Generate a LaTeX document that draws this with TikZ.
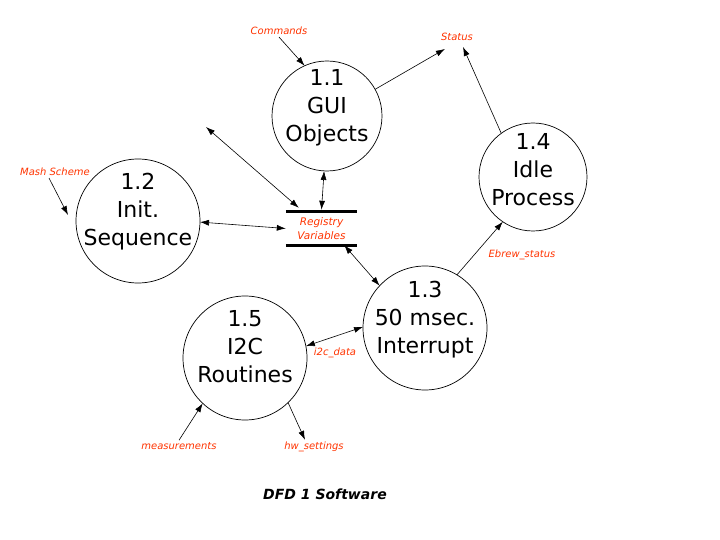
\documentclass[tikz,border=0pt]{standalone}
\usepackage{fontspec}
\setmainfont{DejaVu Sans}
\usepackage{tikz}
\usetikzlibrary{arrows.meta}
\definecolor{FlowRed}{RGB}{255,51,0}

\begin{document}
\begin{tikzpicture}[x=1pt,y=-1pt]
  \tikzstyle{BubbleStyle}=[draw,circle,line width=0.7pt,inner sep=0pt,outer sep=0pt]
  \tikzstyle{BubbleText}=[align=center,font=\fontsize{22}{28}\selectfont]
  \tikzstyle{LabelStyle}=[text=FlowRed,font=\fontsize{10}{12}\selectfont\itshape,inner sep=2pt]
  \tikzstyle{EdgeStyle}=[-{Latex[length=9pt,width=6pt]},line width=0.6pt]
  \tikzstyle{BothStyle}=[{Latex[length=9pt,width=6pt]}-{Latex[length=9pt,width=6pt]},line width=0.6pt]
  \tikzstyle{StoreStyle}=[line width=3pt]
  \useasboundingbox (0,0) rectangle (720,540);
  % processes
  \node[BubbleStyle,minimum size=110pt] (gui) at (327,116) {};
  \node[BubbleStyle,minimum size=124pt] (init) at (138,221) {};
  \node[BubbleStyle,minimum size=108pt] (idle) at (533,177) {};
  \node[BubbleStyle,minimum size=124pt] (intr) at (425,328) {};
  \node[BubbleStyle,minimum size=124pt] (i2cr) at (245,358) {};
  \node[BubbleText] (gui-t) at ([yshift=8pt]gui.center) {1.1\\GUI\\Objects};
  \node[BubbleText] (init-t) at ([yshift=9pt]init.center) {1.2\\Init.\\Sequence};
  \node[BubbleText] (idle-t) at ([yshift=7pt]idle.center) {1.4\\Idle\\Process};
  \node[BubbleText] (intr-t) at ([yshift=8pt]intr.center) {1.3\\50 msec.\\Interrupt};
  \node[BubbleText] (i2cr-t) at ([yshift=11pt]i2cr.center) {1.5\\I2C\\Routines};
  % data store
  \node[LabelStyle,align=center,minimum width=71pt,minimum height=33pt,
        font=\fontsize{10.5}{14}\selectfont\itshape] (reg) at (321.5,228.5) {Registry\\Variables};
  \draw[StoreStyle] (reg.north west) -- (reg.north east);
  \draw[StoreStyle] (reg.south west) -- (reg.south east);
  % flow labels
  \node[LabelStyle] (cmd) at (279,31) {Commands};
  \node[LabelStyle] (status) at (457,37) {Status};
  \node[LabelStyle] (mash) at (55,172) {Mash Scheme};
  \node[LabelStyle] (ebrew) at (522,255) {Ebrew\_status};
  \node[LabelStyle] (i2c) at (335,353) {i2c\_data};
  \node[LabelStyle] (meas) at (179,446) {measurements};
  \node[LabelStyle] (hw) at (314,447) {hw\_settings};
  \node[font=\fontsize{14}{16}\selectfont\bfseries\itshape] (title) at (325,494) {DFD 1 Software};
  \coordinate (loose) at (206,127);
  % flows
  \draw[EdgeStyle] (cmd.south) -- (gui.114);
  \draw[EdgeStyle] (gui.29) -- ([xshift=6pt,yshift=-6pt]status.south west);
  \draw[EdgeStyle] (idle.126) -- ([xshift=6pt,yshift=-4pt]status.south);
  \draw[BothStyle] (loose) -- ([xshift=13pt,yshift=4pt]reg.north west);
  \draw[BothStyle] (gui.-93) -- ([yshift=2pt]reg.north);
  \draw[BothStyle] (init.-1) -- (reg.west);
  \draw[BothStyle] ([xshift=-13pt]reg.south east) -- (intr.137);
  \draw[EdgeStyle] (intr.59) -- (idle.236);
  \draw[BothStyle] (i2cr.11) -- (intr.179);
  \draw[EdgeStyle] (meas.north) -- (i2cr.227);
  \draw[EdgeStyle] (i2cr.-46) -- ([xshift=-9pt]hw.north);
  \draw[EdgeStyle] ([xshift=-6pt]mash.south) -- ([xshift=-8pt,yshift=6pt]init.west);
\end{tikzpicture}
\end{document}
